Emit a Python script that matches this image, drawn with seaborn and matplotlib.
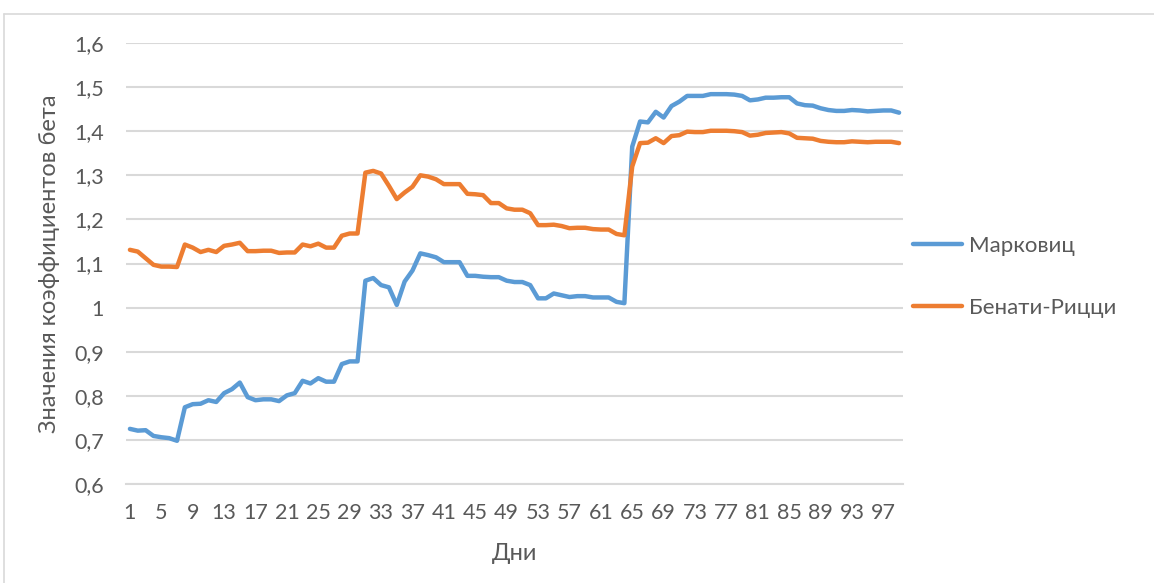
import numpy as np
import pandas as pd
import matplotlib
matplotlib.use("Agg")
import matplotlib.pyplot as plt
from matplotlib.ticker import FixedLocator, FuncFormatter
from matplotlib.lines import Line2D
import seaborn as sns

# Daily beta coefficients for two portfolio models
days = list(range(1, 100))

markowitz = [
    0.725, 0.721, 0.722, 0.709, 0.706, 0.704, 0.698, 0.774, 0.781, 0.782,
    0.790, 0.786, 0.806, 0.815, 0.830, 0.797, 0.790, 0.792, 0.792, 0.788,
    0.801, 0.806, 0.834, 0.828, 0.840, 0.832, 0.832, 0.872, 0.878, 0.878,
    1.061, 1.067, 1.051, 1.046, 1.006, 1.059, 1.084, 1.123, 1.119, 1.114,
    1.103, 1.103, 1.103, 1.072, 1.072, 1.070, 1.069, 1.069, 1.061, 1.058,
    1.058, 1.051, 1.021, 1.021, 1.032, 1.028, 1.024, 1.026, 1.026, 1.023,
    1.023, 1.023, 1.013, 1.010, 1.365, 1.422, 1.420, 1.444, 1.431, 1.457,
    1.467, 1.480, 1.480, 1.480, 1.484, 1.484, 1.484, 1.483, 1.480, 1.470,
    1.472, 1.476, 1.476, 1.477, 1.477, 1.463, 1.459, 1.458, 1.452, 1.448,
    1.446, 1.446, 1.448, 1.447, 1.445, 1.446, 1.447, 1.447, 1.442,
]

benati_ricci = [
    1.131, 1.127, 1.112, 1.097, 1.093, 1.093, 1.092, 1.143, 1.136, 1.126,
    1.131, 1.126, 1.140, 1.143, 1.147, 1.128, 1.128, 1.129, 1.129, 1.124,
    1.125, 1.125, 1.143, 1.139, 1.145, 1.136, 1.136, 1.163, 1.168, 1.168,
    1.306, 1.310, 1.304, 1.276, 1.246, 1.261, 1.274, 1.300, 1.297, 1.291,
    1.280, 1.280, 1.280, 1.258, 1.257, 1.255, 1.237, 1.237, 1.225, 1.222,
    1.222, 1.214, 1.187, 1.187, 1.188, 1.185, 1.180, 1.181, 1.181, 1.178,
    1.177, 1.177, 1.167, 1.164, 1.320, 1.373, 1.374, 1.384, 1.373, 1.389,
    1.391, 1.399, 1.398, 1.398, 1.401, 1.401, 1.401, 1.400, 1.398, 1.390,
    1.392, 1.396, 1.397, 1.398, 1.395, 1.385, 1.384, 1.383, 1.378, 1.376,
    1.375, 1.375, 1.377, 1.376, 1.375, 1.376, 1.376, 1.376, 1.373,
]

series_names = ["Марковиц", "Бенати-Рицци"]
series_colors = ["#5B9BD5", "#ED7D31"]
x_ticks = list(range(1, 100, 4))
y_ticks = [0.6, 0.7, 0.8, 0.9, 1.0, 1.1, 1.2, 1.3, 1.4, 1.5, 1.6]

df = pd.DataFrame({
    "День": days * 2,
    "Бета": markowitz + benati_ricci,
    "Метод": [series_names[0]] * len(days) + [series_names[1]] * len(days),
})

sns.set_theme(style="white")
plt.rcParams["font.family"] = ["Lato", "DejaVu Sans"]

text_color = "#595959"
grid_color = "#D9D9D9"
line_width = 3.2

fig = plt.figure(figsize=(11.54, 5.83), dpi=100)
ax = fig.add_axes([126 / 1154, 1 - 484 / 583, 777 / 1154, 441 / 583])

sns.lineplot(
    data=df, x="День", y="Бета", hue="Метод",
    palette=dict(zip(series_names, series_colors)),
    linewidth=line_width, ax=ax, legend=False,
    solid_capstyle="round", solid_joinstyle="round",
)

ax.set_xlim(0.5, 99.5)
ax.set_ylim(0.6, 1.6)

ax.yaxis.set_major_locator(FixedLocator(y_ticks))
ax.yaxis.set_major_formatter(FuncFormatter(lambda v, p: f"{v:g}".replace(".", ",")))
ax.xaxis.set_major_locator(FixedLocator(x_ticks))

ax.grid(axis="y", color=grid_color, linewidth=1.5)
ax.set_axisbelow(True)
for side in ["top", "right", "left"]:
    ax.spines[side].set_visible(False)
ax.spines["bottom"].set_color(grid_color)
ax.spines["bottom"].set_linewidth(1.5)

ax.tick_params(axis="both", length=0, labelsize=15.5, labelcolor=text_color)
ax.tick_params(axis="y", pad=16)
ax.tick_params(axis="x", pad=14)

ax.set_xlabel("Дни", fontsize=17, color=text_color, labelpad=14)
ax.set_ylabel("Значения коэффициентов бета", fontsize=17, color=text_color, labelpad=10)

handles = [Line2D([0], [0], color=c, linewidth=line_width, solid_capstyle="round")
           for c in series_colors]
ax.legend(
    handles, series_names, loc="center left", bbox_to_anchor=(1.0, 0.47),
    frameon=False, fontsize=16, labelcolor=text_color,
    handlelength=2.2, handletextpad=0.3, labelspacing=1.9, borderaxespad=0.05,
)

# Chart area border
fig.add_artist(Line2D([4 / 1154, 1.0], [1 - 14 / 583] * 2, color=grid_color,
                      linewidth=1.2, transform=fig.transFigure))
fig.add_artist(Line2D([4 / 1154] * 2, [0.0, 1 - 14 / 583], color=grid_color,
                      linewidth=1.2, transform=fig.transFigure))

fig.savefig("out.png", dpi=100)
